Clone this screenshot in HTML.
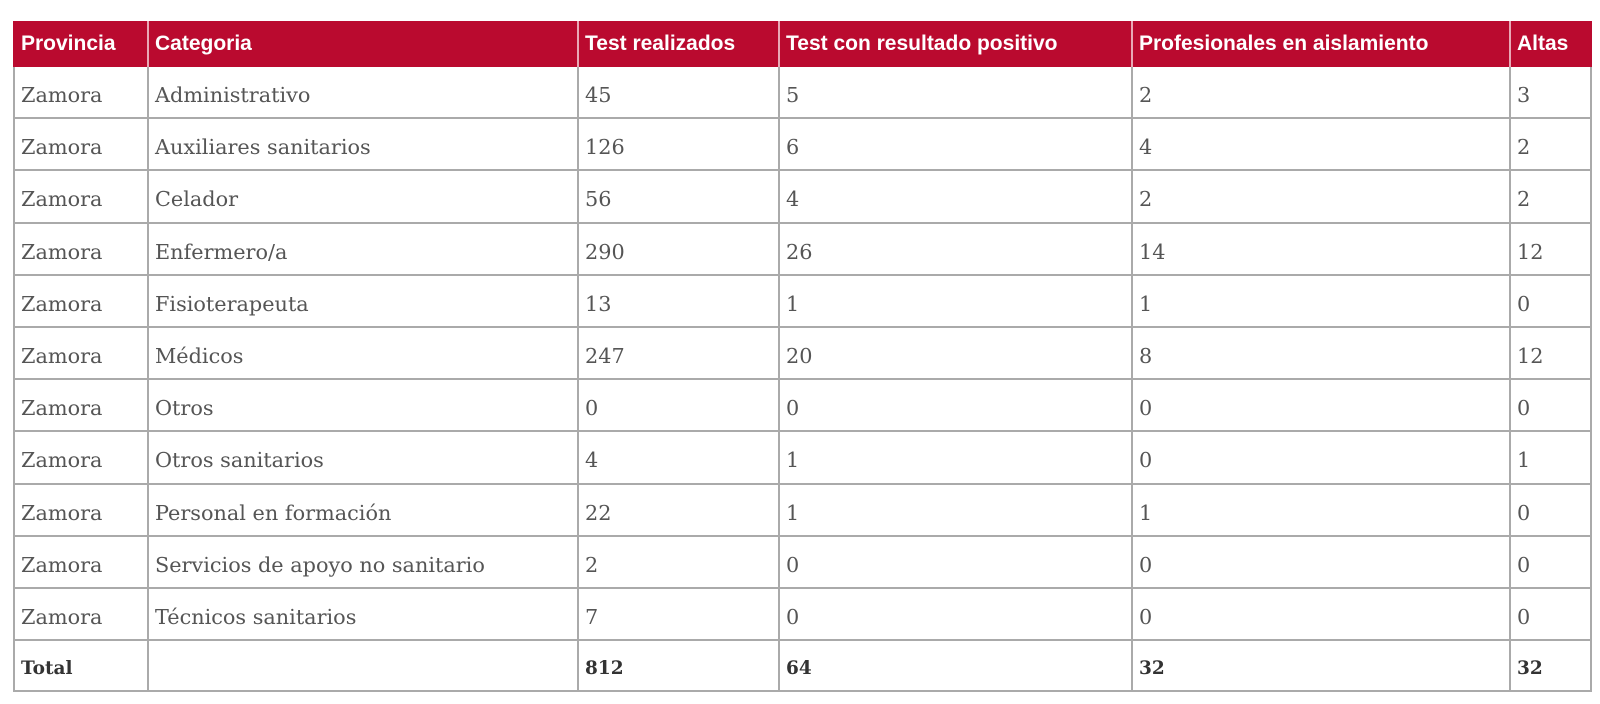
<!DOCTYPE html>
<html>
<head>
<meta charset="utf-8">
<style>
  html,body{margin:0;padding:0;background:#fff;}
  body{width:1600px;height:704px;position:relative;overflow:hidden;}
  .t{position:absolute;left:13px;top:21px;width:1579px;}
  .row{display:flex;box-sizing:border-box;}
  .hd{height:46px;background:#ba0a2f;}
  .hd .c{font-family:"Liberation Sans",sans-serif;font-weight:bold;font-size:21px;color:#fff;line-height:46px;border-left:2px solid #e9a9b6;padding-left:6px;}
  .hd .c:first-child{border-left:2px solid #ba0a2f;}
  .r{height:52.2px;border-bottom:2px solid #aaaaaa;}
  .r .c{font-family:"DejaVu Serif","Liberation Serif",serif;font-size:20.8px;color:#555;line-height:52px;padding-top:2px;border-left:2px solid #aaaaaa;padding-left:6px;}
  .r .c:last-child{border-right:2px solid #aaaaaa;}
  .tot .c{font-weight:bold;color:#333;font-size:18.5px;}
  .tot{height:51px;}
  .c{box-sizing:border-box;white-space:nowrap;overflow:hidden;}
  .w1{width:134px;} .w2{width:430px;} .w3{width:201px;} .w4{width:353px;} .w5{width:378px;} .w6{width:83px;}
</style>
</head>
<body>
<div class="t">
  <div class="row hd">
    <div class="c w1">Provincia</div><div class="c w2">Categoria</div><div class="c w3">Test realizados</div><div class="c w4">Test con resultado positivo</div><div class="c w5">Profesionales en aislamiento</div><div class="c w6">Altas</div>
  </div>
  <div class="row r"><div class="c w1">Zamora</div><div class="c w2">Administrativo</div><div class="c w3">45</div><div class="c w4">5</div><div class="c w5">2</div><div class="c w6">3</div></div>
  <div class="row r"><div class="c w1">Zamora</div><div class="c w2">Auxiliares sanitarios</div><div class="c w3">126</div><div class="c w4">6</div><div class="c w5">4</div><div class="c w6">2</div></div>
  <div class="row r"><div class="c w1">Zamora</div><div class="c w2">Celador</div><div class="c w3">56</div><div class="c w4">4</div><div class="c w5">2</div><div class="c w6">2</div></div>
  <div class="row r"><div class="c w1">Zamora</div><div class="c w2">Enfermero/a</div><div class="c w3">290</div><div class="c w4">26</div><div class="c w5">14</div><div class="c w6">12</div></div>
  <div class="row r"><div class="c w1">Zamora</div><div class="c w2">Fisioterapeuta</div><div class="c w3">13</div><div class="c w4">1</div><div class="c w5">1</div><div class="c w6">0</div></div>
  <div class="row r"><div class="c w1">Zamora</div><div class="c w2">Médicos</div><div class="c w3">247</div><div class="c w4">20</div><div class="c w5">8</div><div class="c w6">12</div></div>
  <div class="row r"><div class="c w1">Zamora</div><div class="c w2">Otros</div><div class="c w3">0</div><div class="c w4">0</div><div class="c w5">0</div><div class="c w6">0</div></div>
  <div class="row r"><div class="c w1">Zamora</div><div class="c w2">Otros sanitarios</div><div class="c w3">4</div><div class="c w4">1</div><div class="c w5">0</div><div class="c w6">1</div></div>
  <div class="row r"><div class="c w1">Zamora</div><div class="c w2">Personal en formación</div><div class="c w3">22</div><div class="c w4">1</div><div class="c w5">1</div><div class="c w6">0</div></div>
  <div class="row r"><div class="c w1">Zamora</div><div class="c w2">Servicios de apoyo no sanitario</div><div class="c w3">2</div><div class="c w4">0</div><div class="c w5">0</div><div class="c w6">0</div></div>
  <div class="row r"><div class="c w1">Zamora</div><div class="c w2">Técnicos sanitarios</div><div class="c w3">7</div><div class="c w4">0</div><div class="c w5">0</div><div class="c w6">0</div></div>
  <div class="row r tot"><div class="c w1">Total</div><div class="c w2"></div><div class="c w3">812</div><div class="c w4">64</div><div class="c w5">32</div><div class="c w6">32</div></div>
</div>
</body>
</html>
